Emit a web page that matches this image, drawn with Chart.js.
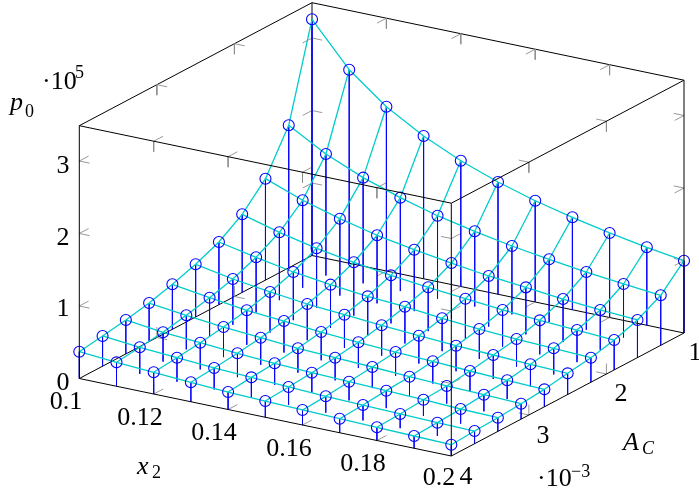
<!DOCTYPE html>
<html><head><meta charset="utf-8">
<style>html,body{margin:0;padding:0;background:#fff}canvas{display:block}</style>
<script src="https://cdn.jsdelivr.net/npm/chart.js@4"></script></head>
<body><canvas id="c" width="699" height="493"></canvas>
<script>
const x2Values=[0.10,0.11,0.12,0.13,0.14,0.15,0.16,0.17,0.18,0.19,0.20];
const acValues=[1.0,1.3,1.6,1.9,2.2,2.5,2.8,3.1,3.4,3.7,4.0];
// p0 (×10^5) along x2, one list per A_C (×10^-3)
const p0Ac10=[3.258,2.670,2.266,1.969,1.735,1.548,1.397,1.275,1.166,1.075,0.997];
const p0Ac13=[1.966,1.677,1.457,1.288,1.146,1.038,0.942,0.866,0.797,0.739,0.690];
const p0Ac16=[1.399,1.208,1.061,0.939,0.847,0.770,0.698,0.648,0.594,0.550,0.519];
const p0Ac19=[1.077,0.936,0.822,0.736,0.663,0.605,0.554,0.506,0.470,0.443,0.412];
const p0Ac22=[0.865,0.761,0.665,0.597,0.543,0.507,0.454,0.413,0.382,0.361,0.338];
const p0Ac25=[0.727,0.631,0.559,0.500,0.459,0.420,0.383,0.352,0.331,0.310,0.292];
const p0Ac28=[0.621,0.543,0.476,0.435,0.390,0.355,0.328,0.307,0.280,0.259,0.241];
const p0Ac31=[0.532,0.470,0.415,0.374,0.335,0.312,0.291,0.264,0.243,0.230,0.212];
const p0Ac34=[0.468,0.405,0.368,0.329,0.298,0.275,0.258,0.241,0.223,0.202,0.189];
const p0Ac37=[0.417,0.368,0.331,0.296,0.274,0.248,0.226,0.213,0.196,0.183,0.175];
const p0Ac40=[0.370,0.330,0.299,0.268,0.241,0.224,0.207,0.194,0.182,0.169,0.156];
const p0Rows=[p0Ac10,p0Ac13,p0Ac16,p0Ac19,p0Ac22,p0Ac25,p0Ac28,p0Ac31,p0Ac34,p0Ac37,p0Ac40];
const x2Ticks=[0.12,0.14,0.16,0.18];
const acTicks=[2,3];
const zTicks=[1,2,3];
const x2Lim=[0.1,0.2], acLim=[1,4], zLim=[0,3.487];

// view of the 3D axis box (oblique projection onto the page)
const O={x:312,y:255.5}, EX={x:372,y:77.5}, EA={x:-232.7,y:123}, EZ=252.8;
function proj(x2,ac,z){
  const u=(x2-x2Lim[0])/(x2Lim[1]-x2Lim[0]), v=(ac-acLim[0])/(acLim[1]-acLim[0]), w=(z-zLim[0])/(zLim[1]-zLim[0]);
  return {x:O.x+u*EX.x+v*EA.x, y:O.y+u*EX.y+v*EA.y-w*EZ};
}
const GAP={x:null,y:null};
const [x0,x1]=x2Lim,[a0,a1]=acLim,[z0,z1]=zLim;
function segs(list){const o=[];list.forEach(s=>{o.push(proj(...s[0]),proj(...s[1]),GAP)});return o;}

const backBox=segs([
 [[x0,a1,z0],[x0,a0,z0]],[[x0,a0,z0],[x1,a0,z0]],[[x0,a0,z0],[x0,a0,z1]],
 [[x0,a1,z1],[x0,a0,z1]],[[x0,a0,z1],[x1,a0,z1]]]);
const frontBox=segs([
 [[x0,a1,z0],[x1,a1,z0]],[[x1,a1,z0],[x1,a0,z0]],
 [[x0,a1,z1],[x1,a1,z1]],[[x1,a1,z1],[x1,a0,z1]],
 [[x0,a1,z0],[x0,a1,z1]],[[x1,a1,z0],[x1,a1,z1]],[[x1,a0,z0],[x1,a0,z1]]]);

// ticks: short strokes along the walls, a fixed fraction of each box edge
const dx=(x1-x0)*0.0275, da=(a1-a0)*0.04, dz=(z1-z0)*0.0415;
const tickSegs=[];
x2Ticks.forEach(t=>{
  [[a1,z0,-da,dz],[a0,z0,da,dz],[a1,z1,-da,-dz],[a0,z1,da,-dz]].forEach(([a,z,sa,sz])=>{
    tickSegs.push([[t,a,z],[t,a+sa,z]],[[t,a,z],[t,a,z+sz]]);
  });
});
acTicks.forEach(t=>{
  [[x0,z0,dx,dz],[x1,z0,-dx,dz],[x0,z1,dx,-dz],[x1,z1,-dx,-dz]].forEach(([x,z,sx,sz])=>{
    tickSegs.push([[x,t,z],[x+sx,t,z]],[[x,t,z],[x,t,z+sz]]);
  });
});
zTicks.forEach(t=>{
  [[x0,a1,dx,-da],[x1,a1,-dx,-da],[x0,a0,dx,da],[x1,a0,-dx,da]].forEach(([x,a,sx,sa])=>{
    tickSegs.push([[x,a,t],[x+sx,a,t]],[[x,a,t],[x,a+sa,t]]);
  });
});
const tickData=segs(tickSegs);

const meshData=[], stemData=[], markerData=[];
p0Rows.forEach((row,j)=>{
  row.forEach((z,i)=>{
    const p=proj(x2Values[i],acValues[j],z);
    meshData.push(p);
    markerData.push(p);
    stemData.push(p,proj(x2Values[i],acValues[j],0),GAP);
  });
  meshData.push(GAP);
});
x2Values.forEach((x,i)=>{
  p0Rows.forEach((row,j)=>meshData.push(proj(x,acValues[j],row[i])));
  meshData.push(GAP);
});

const SERIF='"Liberation Serif","DejaVu Serif",serif';
const big='26px '+SERIF, small='18px '+SERIF, bigI='italic 26px '+SERIF, smallI='italic 18px '+SERIF;
const labels=[
 ['0',63,390,big],['1',63,316,big],['2',63,245,big],['3',63,173,big],
 ['0.1',66,409,big],['0.12',140,425,big],['0.14',214,440,big],['0.16',289,456,big],['0.18',363,471,big],['0.2',439,485,big],
 ['4',466,484,big],['3',543,443,big],['2',621,401,big],['1',695,360,big],
];
const freeLabels=[
 ['p',10,110,bigI],['0',25,117,small],
 ['·10',42,89,big],['5',75,78,small],
 ['x',137,474,bigI],['2',152,478,small],
 ['A',623,450,bigI],['C',642,454,smallI],
 ['·10',537,486,big],['−3',571,477,small],
];
const textPlugin={id:'texts',afterDraw(ch){
  const c=ch.ctx,sx=ch.scales.x,sy=ch.scales.y;
  c.save();c.fillStyle='#000';c.textBaseline='alphabetic';
  c.textAlign='center';
  labels.forEach(([t,x,y,f])=>{c.font=f;c.fillText(t,sx.getPixelForValue(x),sy.getPixelForValue(y));});
  c.textAlign='left';
  freeLabels.forEach(([t,x,y,f])=>{c.font=f;c.fillText(t,sx.getPixelForValue(x),sy.getPixelForValue(y));});
  c.restore();
}};
const lineSet=(label,data,color,width,order)=>({label,data,showLine:true,borderColor:color,borderWidth:width,pointRadius:0,spanGaps:false,tension:0,order,borderCapStyle:'butt',borderJoinStyle:'round'});

new Chart(document.getElementById('c'),{
  type:'scatter',
  data:{datasets:[
    lineSet('front box',frontBox,'#000',1,0),
    {label:'p0',data:markerData,showLine:false,pointStyle:'circle',pointRadius:5.5,pointBorderWidth:1.1,pointBorderColor:'#0000ff',pointBackgroundColor:'rgba(0,0,0,0)',order:1},
    lineSet('mesh',meshData,'#00cccc',1.3,2),
    lineSet('stems',stemData,'#0000ff',0.85,3),
    lineSet('ticks',tickData,'#8c8c8c',0.9,4),
    lineSet('back box',backBox,'#000',1,5)
  ]},
  options:{responsive:false,animation:false,events:[],layout:{padding:0,autoPadding:false},
    plugins:{legend:{display:false},tooltip:{enabled:false}},
    scales:{x:{type:'linear',display:false,min:0,max:699,offset:false},
            y:{type:'linear',display:false,min:0,max:493,reverse:true,offset:false}}},
  plugins:[textPlugin]
});
</script></body></html>
